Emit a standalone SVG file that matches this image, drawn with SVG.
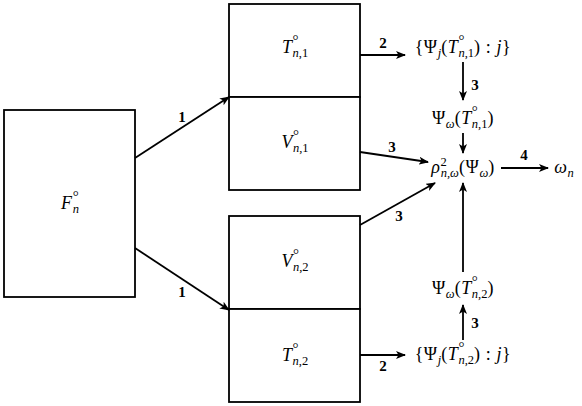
<svg xmlns="http://www.w3.org/2000/svg" width="582" height="406" viewBox="0 0 582 406">
<defs>
<style>
.box{fill:#fff;stroke:#000;stroke-width:1.8}
.c{fill:none;stroke:#000;stroke-width:1.8;marker-end:url(#ah)}
.m{font-size:18px;fill:#000;letter-spacing:0.6px}
.i{font-style:italic}
.s{font-size:12.5px;letter-spacing:0}
.r{font-size:15px;letter-spacing:0}
.n{font-size:15px;font-weight:bold;fill:#000;text-anchor:middle}
</style>
<marker id="ah" viewBox="0 0 10 8" refX="9" refY="4" markerWidth="10" markerHeight="8" markerUnits="userSpaceOnUse" orient="auto">
<path d="M0,0 L10,4 L0,8 L2.5,4 Z" fill="#000"/>
</marker>
</defs>
<g font-family="'Liberation Serif', 'Times New Roman', serif">
<g id="F">
<rect class="box" x="4" y="110" width="131" height="187"/>
<text class="m" x="70" y="209" text-anchor="middle"><tspan class="i">F</tspan><tspan class="r" dy="-8">°</tspan><tspan class="s i" dx="-6" dy="12">n</tspan></text>
</g>
<g id="T1">
<rect class="box" x="229" y="4" width="131" height="93"/>
<text class="m" x="295" y="53" text-anchor="middle"><tspan class="i">T</tspan><tspan class="r" dy="-8">°</tspan><tspan class="s" dx="-6" dy="12"><tspan class="i">n</tspan>,1</tspan></text>
</g>
<g id="V1">
<rect class="box" x="229" y="97" width="131" height="93"/>
<text class="m" x="295" y="148" text-anchor="middle"><tspan class="i">V</tspan><tspan class="r" dy="-8">°</tspan><tspan class="s" dx="-6" dy="12"><tspan class="i">n</tspan>,1</tspan></text>
</g>
<g id="V2">
<rect class="box" x="229" y="216" width="131" height="93"/>
<text class="m" x="295" y="267" text-anchor="middle"><tspan class="i">V</tspan><tspan class="r" dy="-8">°</tspan><tspan class="s" dx="-6" dy="12"><tspan class="i">n</tspan>,2</tspan></text>
</g>
<g id="T2">
<rect class="box" x="229" y="309" width="131" height="93"/>
<text class="m" x="295" y="361" text-anchor="middle"><tspan class="i">T</tspan><tspan class="r" dy="-8">°</tspan><tspan class="s" dx="-6" dy="12"><tspan class="i">n</tspan>,2</tspan></text>
</g>
<g id="PsiSet1">
<text class="m" x="463" y="53" text-anchor="middle">{Ψ<tspan class="s i" dy="4">j</tspan><tspan dy="-4">(</tspan><tspan class="i">T</tspan><tspan class="r" dy="-8">°</tspan><tspan class="s" dx="-6" dy="12"><tspan class="i">n</tspan>,1</tspan><tspan dy="-4">) : </tspan><tspan class="i">j</tspan>}</text>
</g>
<g id="PsiW1">
<text class="m" x="463" y="124" text-anchor="middle">Ψ<tspan class="s i" dy="4">ω</tspan><tspan dy="-4">(</tspan><tspan class="i">T</tspan><tspan class="r" dy="-8">°</tspan><tspan class="s" dx="-6" dy="12"><tspan class="i">n</tspan>,1</tspan><tspan dy="-4">)</tspan></text>
</g>
<g id="Rho">
<text class="m" x="463" y="173" text-anchor="middle"><tspan class="i">ρ</tspan><tspan class="s" dy="-7">2</tspan><tspan class="s i" dx="-6" dy="11">n,ω</tspan><tspan dy="-4">(Ψ</tspan><tspan class="s i" dy="4">ω</tspan><tspan dy="-4">)</tspan></text>
</g>
<g id="Omega">
<text class="m" x="564" y="173" text-anchor="middle"><tspan class="i">ω</tspan><tspan class="s i" dy="4">n</tspan></text>
</g>
<g id="PsiW2">
<text class="m" x="463" y="294" text-anchor="middle">Ψ<tspan class="s i" dy="4">ω</tspan><tspan dy="-4">(</tspan><tspan class="i">T</tspan><tspan class="r" dy="-8">°</tspan><tspan class="s" dx="-6" dy="12"><tspan class="i">n</tspan>,2</tspan><tspan dy="-4">)</tspan></text>
</g>
<g id="PsiSet2">
<text class="m" x="463" y="360" text-anchor="middle">{Ψ<tspan class="s i" dy="4">j</tspan><tspan dy="-4">(</tspan><tspan class="i">T</tspan><tspan class="r" dy="-8">°</tspan><tspan class="s" dx="-6" dy="12"><tspan class="i">n</tspan>,2</tspan><tspan dy="-4">) : </tspan><tspan class="i">j</tspan>}</text>
</g>
<g id="connectors">
<line class="c" x1="135" y1="158" x2="229" y2="97"/>
<line class="c" x1="135" y1="248" x2="229" y2="310"/>
<line class="c" x1="360" y1="55" x2="405" y2="55"/>
<line class="c" x1="463" y1="62" x2="463" y2="100"/>
<line class="c" x1="463" y1="133" x2="463" y2="153"/>
<line class="c" x1="360" y1="152" x2="428" y2="162"/>
<line class="c" x1="360" y1="225" x2="435" y2="183"/>
<line class="c" x1="463" y1="272" x2="463" y2="183"/>
<line class="c" x1="463" y1="340" x2="463" y2="305"/>
<line class="c" x1="360" y1="355" x2="405" y2="355"/>
<line class="c" x1="501" y1="168" x2="548" y2="168"/>
<text class="n" x="182" y="122">1</text>
<text class="n" x="182" y="297">1</text>
<text class="n" x="383" y="48">2</text>
<text class="n" x="383" y="371">2</text>
<text class="n" x="475" y="90">3</text>
<text class="n" x="392" y="152">3</text>
<text class="n" x="399" y="221">3</text>
<text class="n" x="475" y="328">3</text>
<text class="n" x="524" y="160">4</text>
</g>
</g>
</svg>
